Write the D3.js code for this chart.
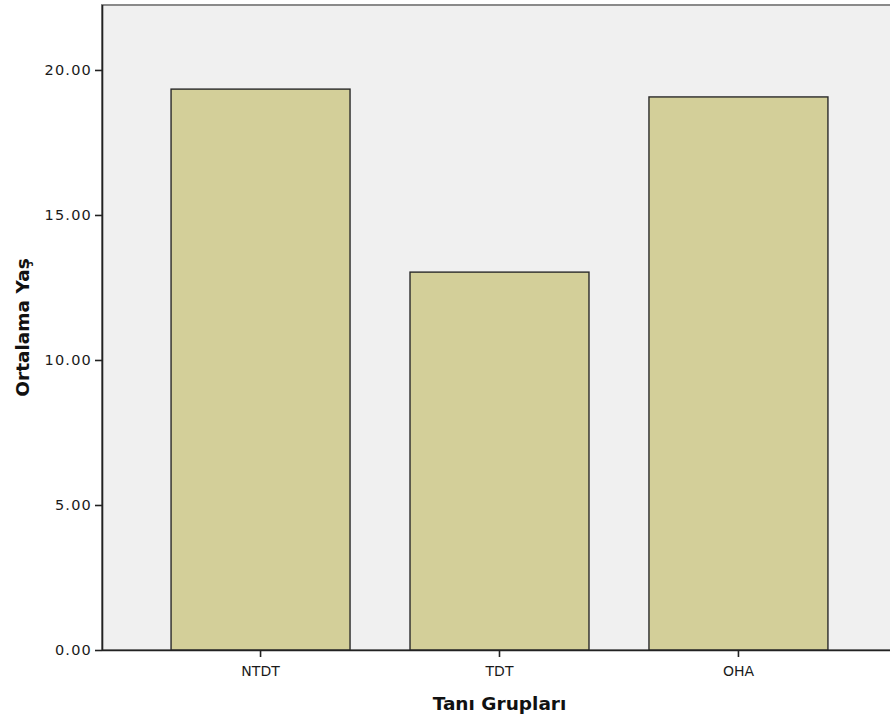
<!DOCTYPE html>
<html><head><meta charset="utf-8">
<script src="https://cdn.jsdelivr.net/npm/d3@7"></script>
<style>body{margin:0;background:#fff}svg{display:block}</style>
</head><body>
<svg id="c" width="890" height="722"></svg>
<script>
const categories = ["NTDT", "TDT", "OHA"];
const values = [19.34, 13.03, 19.07];
const yTicks = [0, 5, 10, 15, 20];
const xTitle = "Tanı Grupları";
const yTitle = "Ortalama Yaş";

const svg = d3.select("#c");
const L = 102, T = 5, R = 897, B = 650;
const y = d3.scaleLinear().domain([0, 22.24]).range([B, T]);
const x = d3.scaleBand().domain(categories).range([L, R]).paddingInner(0.251).paddingOuter(0.289);

svg.append("rect").attr("x", L).attr("y", T).attr("width", 890 - L + 5).attr("height", B - T)
  .attr("fill", "#f0f0f0").attr("stroke", "#8a8a8a").attr("stroke-width", 2);

svg.selectAll("rect.bar").data(values).join("rect").attr("class", "bar")
  .attr("x", (d, i) => x(categories[i]))
  .attr("y", d => y(d))
  .attr("width", x.bandwidth())
  .attr("height", d => B - y(d))
  .attr("fill", "#d3cf99").attr("stroke", "#2a2a2a").attr("stroke-width", 1.4);

const font = "'DejaVu Sans', sans-serif";
const yAxis = svg.append("g").attr("transform", `translate(${L},0)`)
  .call(d3.axisLeft(y).tickValues(yTicks).tickFormat(d3.format(".2f")).tickSize(7).tickPadding(3));
const xAxis = svg.append("g").attr("transform", `translate(0,${B})`)
  .call(d3.axisBottom(x).tickSize(7).tickPadding(9).tickSizeOuter(0));
[yAxis, xAxis].forEach(g => {
  g.select(".domain").attr("stroke", "#222").attr("stroke-width", 1.6);
  g.selectAll(".tick line").attr("stroke", "#222").attr("stroke-width", 1.6);
  g.selectAll(".tick text").attr("fill", "#1a1a1a").style("font-family", font).style("font-size", "14px");
});
yAxis.selectAll(".tick text").style("letter-spacing", "1.2px").style("font-size", "14.5px");
xAxis.select(".domain").attr("d", `M${L},0.5H890`);
yAxis.select(".domain").attr("d", `M0.5,${T}V${B}`);

svg.append("text").attr("x", (L + R) / 2).attr("y", 710).attr("text-anchor", "middle")
  .style("font-family", font).style("font-size", "18.5px").style("font-weight", "bold")
  .attr("fill", "#111").text(xTitle);
svg.append("text").attr("transform", `translate(29,${(T + B) / 2}) rotate(-90)`).attr("text-anchor", "middle")
  .style("font-family", font).style("font-size", "18.5px").style("font-weight", "bold")
  .attr("fill", "#111").text(yTitle);
</script>
</body></html>
